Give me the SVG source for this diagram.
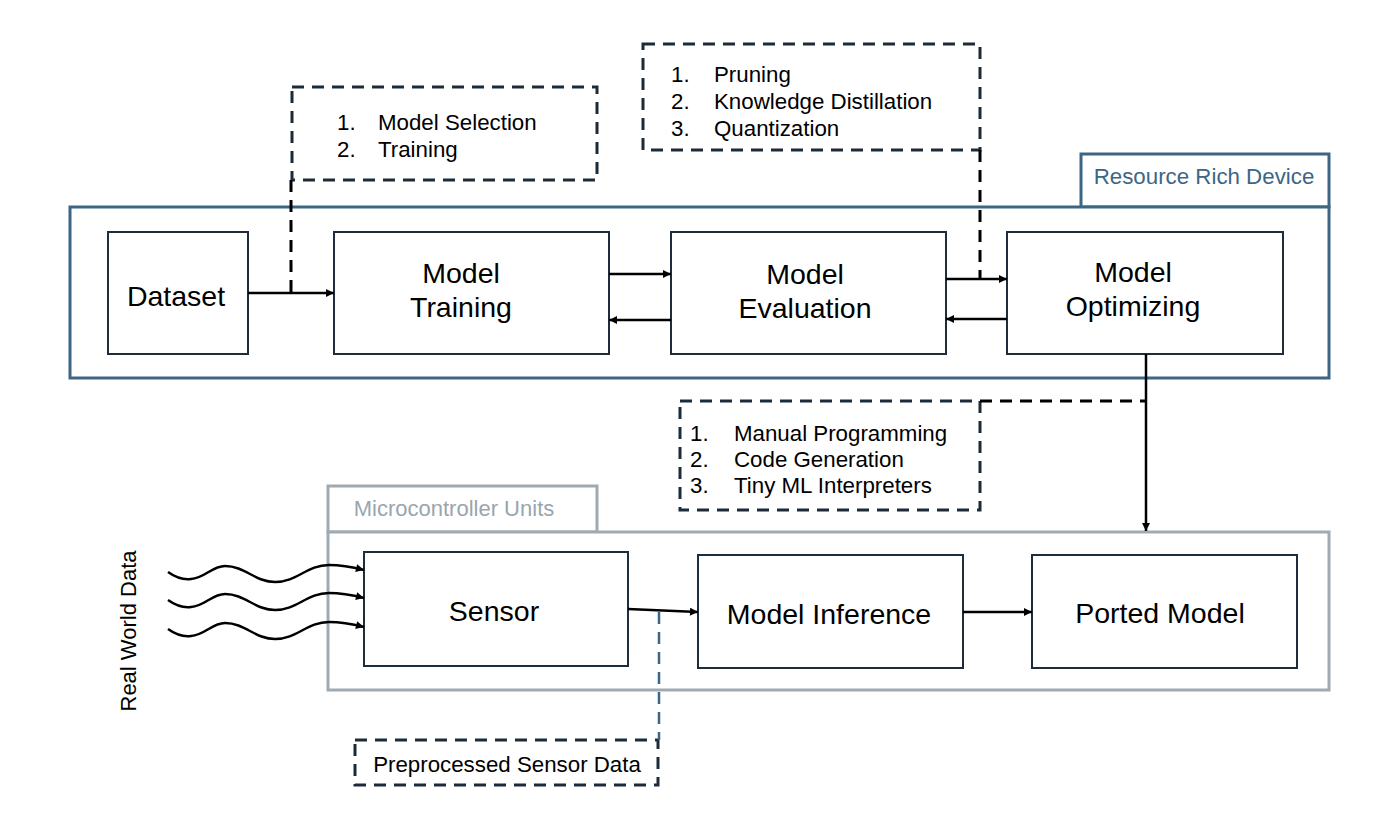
<svg xmlns="http://www.w3.org/2000/svg" width="1400" height="840" viewBox="0 0 1400 840">
<defs>
<marker id="ah" viewBox="0 0 10 10" refX="10" refY="5" markerWidth="10" markerHeight="8" markerUnits="userSpaceOnUse" orient="auto">
<path d="M0,0 L10,5 L0,10 Z" fill="#000"/>
</marker>
<style>
text{font-family:"Liberation Sans",Arial,Helvetica,sans-serif;fill:#000}
.node rect{fill:#fff;stroke:#1e2d3b;stroke-width:2}
.nt{font-size:28.5px;text-anchor:middle}
.lt{font-size:22.3px}
.dbox{fill:none;stroke:#1c2b3a;stroke-width:3;stroke-dasharray:12 8}
.conn{fill:none;stroke:#000;stroke-width:2.5}
.dash{fill:none;stroke:#000;stroke-width:3;stroke-dasharray:12 8}
</style>
</defs>
<rect width="1400" height="840" fill="#fff"/>

<g id="resource-rich-device">
<rect x="1081" y="154" width="248" height="53" fill="#fff" stroke="#3c6684" stroke-width="3"/>
<rect x="70" y="207" width="1259" height="171" fill="#fff" stroke="#3c6684" stroke-width="3"/>
<text x="1204" y="184" font-size="22.3" text-anchor="middle" style="fill:#3c6684">Resource Rich Device</text>
</g>

<g id="microcontroller-units">
<rect x="328" y="486" width="269" height="46" fill="#fff" stroke="#a0aab2" stroke-width="3"/>
<rect x="328" y="532" width="1001" height="158" fill="#fff" stroke="#a0aab2" stroke-width="3"/>
<text x="454" y="516" font-size="22" text-anchor="middle" style="fill:#9aa5ad">Microcontroller Units</text>
</g>

<g id="dataset" class="node">
<rect x="108" y="232" width="140" height="122"/>
<text class="nt" x="176" y="306">Dataset</text>
</g>
<g id="model-training" class="node">
<rect x="334" y="232" width="275" height="122"/>
<text class="nt" x="461" y="283">Model</text>
<text class="nt" x="461" y="317">Training</text>
</g>
<g id="model-evaluation" class="node">
<rect x="671" y="232" width="275" height="122"/>
<text class="nt" x="805" y="284">Model</text>
<text class="nt" x="805" y="318">Evaluation</text>
</g>
<g id="model-optimizing" class="node">
<rect x="1007" y="232" width="276" height="122"/>
<text class="nt" x="1133" y="282">Model</text>
<text class="nt" x="1133" y="316">Optimizing</text>
</g>
<g id="sensor" class="node">
<rect x="364" y="552" width="264" height="114"/>
<text class="nt" x="494" y="621">Sensor</text>
</g>
<g id="model-inference" class="node">
<rect x="698" y="555" width="265" height="113"/>
<text class="nt" x="829" y="624">Model Inference</text>
</g>
<g id="ported-model" class="node">
<rect x="1032" y="555" width="265" height="113"/>
<text class="nt" x="1160" y="623">Ported Model</text>
</g>

<g id="note-training">
<rect class="dbox" x="292" y="87" width="305" height="93"/>
<text class="lt" x="337" y="130">1.</text><text class="lt" x="378" y="130">Model Selection</text>
<text class="lt" x="337" y="157">2.</text><text class="lt" x="378" y="157">Training</text>
</g>
<g id="note-optimizing">
<rect class="dbox" x="643" y="44" width="337" height="106"/>
<text class="lt" x="671" y="82">1.</text><text class="lt" x="714" y="82">Pruning</text>
<text class="lt" x="671" y="109">2.</text><text class="lt" x="714" y="109">Knowledge Distillation</text>
<text class="lt" x="671" y="136">3.</text><text class="lt" x="714" y="136">Quantization</text>
</g>
<g id="note-porting">
<rect class="dbox" x="680" y="401" width="300" height="109"/>
<text class="lt" x="690" y="441">1.</text><text class="lt" x="734" y="441">Manual Programming</text>
<text class="lt" x="690" y="467">2.</text><text class="lt" x="734" y="467">Code Generation</text>
<text class="lt" x="690" y="493">3.</text><text class="lt" x="734" y="493">Tiny ML Interpreters</text>
</g>
<g id="note-preprocessed">
<rect class="dbox" x="355" y="740" width="303" height="45"/>
<text x="507" y="772" font-size="22.3" text-anchor="middle">Preprocessed Sensor Data</text>
</g>

<g id="real-world-data">
<text x="0" y="0" font-size="22" text-anchor="middle" transform="translate(136,631) rotate(-90)">Real World Data</text>
</g>

<g id="connectors">
<line class="conn" x1="248" y1="293" x2="334" y2="293" marker-end="url(#ah)"/>
<line class="conn" x1="609" y1="274" x2="671" y2="274" marker-end="url(#ah)"/>
<line class="conn" x1="671" y1="320" x2="609" y2="320" marker-end="url(#ah)"/>
<line class="conn" x1="946" y1="279" x2="1007" y2="279" marker-end="url(#ah)"/>
<line class="conn" x1="1007" y1="319" x2="946" y2="319" marker-end="url(#ah)"/>
<line class="conn" x1="1146" y1="354" x2="1146" y2="531" marker-end="url(#ah)"/>
<line class="conn" x1="628" y1="609" x2="698" y2="612" marker-end="url(#ah)"/>
<line class="conn" x1="963" y1="612" x2="1032" y2="612" marker-end="url(#ah)"/>
<line class="dash" x1="291" y1="180" x2="291" y2="293"/>
<line class="dash" x1="980" y1="150" x2="980" y2="279"/>
<line class="dash" x1="980" y1="401" x2="1146" y2="401" stroke-width="2.5"/>
<line x1="659" y1="612" x2="659" y2="740" stroke="#3c6684" stroke-width="2.5" stroke-dasharray="12 8"/>
<path class="conn" d="M168,572 C175,577 183,580 191,579 C205,578 212,566 225,566 C245,566 255,582 275,582 C297,582 307,565 329,565 C343,565 352,567 364,570" marker-end="url(#ah)"/>
<path class="conn" d="M168,600 C175,605 183,608 191,607 C205,606 212,594 225,594 C245,594 255,610 275,610 C297,610 307,593 329,593 C343,593 352,595 364,598" marker-end="url(#ah)"/>
<path class="conn" d="M168,629 C175,634 183,637 191,636 C205,635 212,623 225,623 C245,623 255,639 275,639 C297,639 307,622 329,622 C343,622 352,624 364,627" marker-end="url(#ah)"/>
</g>
</svg>
